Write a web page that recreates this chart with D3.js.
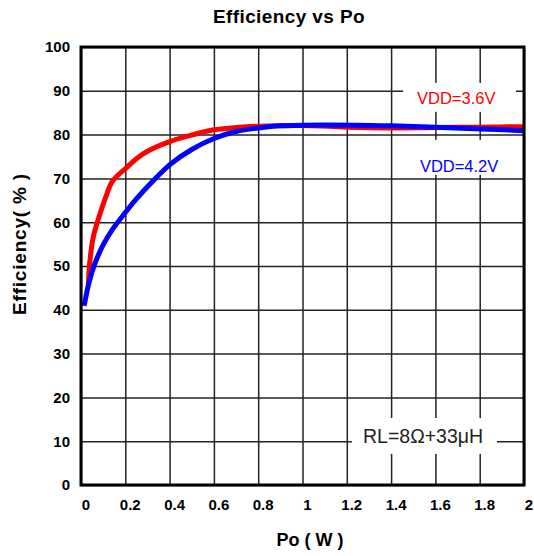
<!DOCTYPE html>
<html>
<head>
<meta charset="utf-8">
<script src="https://cdn.jsdelivr.net/npm/d3@7"></script>
<style>
  body { margin: 0; background: #fff; }
  text { font-family: "Liberation Sans", Arial, sans-serif; }
</style>
</head>
<body>
<div id="holder"></div>
<script>
// values
var xTicks = [0, 0.2, 0.4, 0.6, 0.8, 1, 1.2, 1.4, 1.6, 1.8, 2];
var yTicks = [0, 10, 20, 30, 40, 50, 60, 70, 80, 90, 100];

var poRed = [0.033, 0.04, 0.055, 0.08, 0.11, 0.14, 0.17, 0.2, 0.25, 0.3, 0.4, 0.5, 0.6, 0.7, 0.8, 1.0, 1.2, 1.4, 1.6, 1.8, 2.0];
var effRed = [45.7, 51, 56.5, 61, 65.5, 69.2, 70.9, 72.2, 74.5, 76.2, 78.4, 79.9, 81.1, 81.6, 81.9, 82.1, 81.7, 81.5, 81.6, 81.7, 81.8];

var poBlue = [0.014, 0.035, 0.06, 0.1, 0.14, 0.2, 0.25, 0.3, 0.4, 0.5, 0.6, 0.7, 0.8, 0.9, 1.1, 1.4, 1.6, 1.8, 2.0];
var effBlue = [40.9, 46, 50.2, 54.8, 58.2, 62.2, 65.3, 68.1, 73.1, 76.6, 79.1, 80.7, 81.5, 82, 82.2, 82, 81.7, 81.3, 80.9];

var series = [
  { name: 'VDD=3.6V', color: '#ff0000', x: poRed, y: effRed },
  { name: 'VDD=4.2V', color: '#0000ff', x: poBlue, y: effBlue }
];

function generateChart() {
  var margin = {top: 47, right: 10, bottom: 71, left: 81};
  var fullWidth = 534;
  var fullHeight = 556;
  var width = fullWidth - margin.left - margin.right;
  var height = fullHeight - margin.top - margin.bottom;

  var svg = d3.select('#holder').append('svg')
    .attr('width', fullWidth)
    .attr('height', fullHeight);

  var g = svg.append('g')
    .attr('transform', 'translate(' + margin.left + ',' + margin.top + ')');

  var xScale = d3.scaleLinear().domain([0, 2]).range([0, width]);
  var yScale = d3.scaleLinear().domain([0, 100]).range([height, 0]);

  // grid
  var xaxis = d3.axisBottom(xScale).tickValues(xTicks).tickSize(-height).tickFormat('');
  var yaxis = d3.axisLeft(yScale).tickValues(yTicks).tickSize(-width).tickFormat('');

  g.append('g')
    .classed('x grid', true)
    .attr('transform', 'translate(0,' + height + ')')
    .call(xaxis)
    .call(function(s) {
      s.select('.domain').remove();
      s.selectAll('line').attr('stroke', '#222').attr('stroke-width', 1.5);
    });

  g.append('g')
    .classed('y grid', true)
    .call(yaxis)
    .call(function(s) {
      s.select('.domain').remove();
      s.selectAll('line').attr('stroke', '#222').attr('stroke-width', 1.5);
    });

  // tick labels
  g.selectAll('text.xlab')
    .data(xTicks)
    .enter().append('text')
      .classed('xlab', true)
      .attr('x', function(d) { return xScale(d) + 5; })
      .attr('y', height + 25)
      .attr('text-anchor', 'middle')
      .attr('font-size', 15)
      .attr('font-weight', 'bold')
      .text(function(d) { return d; });

  g.selectAll('text.ylab')
    .data(yTicks)
    .enter().append('text')
      .classed('ylab', true)
      .attr('x', -11)
      .attr('y', function(d) { return yScale(d); })
      .attr('dy', '0.36em')
      .attr('text-anchor', 'end')
      .attr('font-size', 15)
      .attr('font-weight', 'bold')
      .text(function(d) { return d; });

  // label boxes that cut the grid
  var boxes = [
    { x0: 1.454, x1: 1.964, y0: 91.8, y1: 85.2, tx: 1.517, ty: 87.0, text: 'VDD=3.6V', color: '#ff0000', size: 16.5 },
    { x0: 1.472, x1: 1.928, y0: 78.8, y1: 70.8, tx: 1.53, ty: 71.5, text: 'VDD=4.2V', color: '#0000ff', size: 16.5 },
    { x0: 1.223, x1: 1.878, y0: 15.3, y1: 7.1, tx: 1.273, ty: 9.6, text: 'RL=8Ω+33μH', color: '#222', size: 19.5 }
  ];

  g.selectAll('rect.box')
    .data(boxes)
    .enter().append('rect')
      .classed('box', true)
      .attr('x', function(d) { return xScale(d.x0); })
      .attr('y', function(d) { return yScale(d.y0); })
      .attr('width', function(d) { return xScale(d.x1) - xScale(d.x0); })
      .attr('height', function(d) { return yScale(d.y1) - yScale(d.y0); })
      .attr('fill', '#fff');

  g.selectAll('text.note')
    .data(boxes)
    .enter().append('text')
      .classed('note', true)
      .attr('x', function(d) { return xScale(d.tx); })
      .attr('y', function(d) { return yScale(d.ty); })
      .attr('font-size', function(d) { return d.size; })
      .attr('fill', function(d) { return d.color; })
      .text(function(d) { return d.text; });

  // curves
  var line = d3.line()
    .x(function(d) { return xScale(d[0]); })
    .y(function(d) { return yScale(d[1]); })
    .curve(d3.curveCatmullRom.alpha(0.5));

  g.selectAll('path.curve')
    .data(series)
    .enter().append('path')
      .classed('curve', true)
      .attr('d', function(s) { return line(d3.zip(s.x, s.y)); })
      .attr('fill', 'none')
      .attr('stroke', function(s) { return s.color; })
      .attr('stroke-width', 5)
      .attr('stroke-linecap', 'butt');

  // frame
  g.append('rect')
    .attr('width', width)
    .attr('height', height)
    .attr('fill', 'none')
    .attr('stroke', '#000')
    .attr('stroke-width', 3);

  // titles
  svg.append('text')
    .attr('x', 289)
    .attr('y', 23)
    .attr('text-anchor', 'middle')
    .attr('font-size', 19)
    .attr('font-weight', 'bold')
    .attr('letter-spacing', 0.4)
    .text('Efficiency vs Po');

  svg.append('text')
    .attr('x', 310)
    .attr('y', 546)
    .attr('text-anchor', 'middle')
    .attr('font-size', 18)
    .attr('font-weight', 'bold')
    .text('Po ( W )');

  svg.append('text')
    .attr('transform', 'translate(26,244) rotate(-90)')
    .attr('text-anchor', 'middle')
    .attr('font-size', 19)
    .attr('font-weight', 'bold')
    .attr('letter-spacing', 0.8)
    .text('Efficiency( % )');
}

generateChart();
</script>
</body>
</html>
